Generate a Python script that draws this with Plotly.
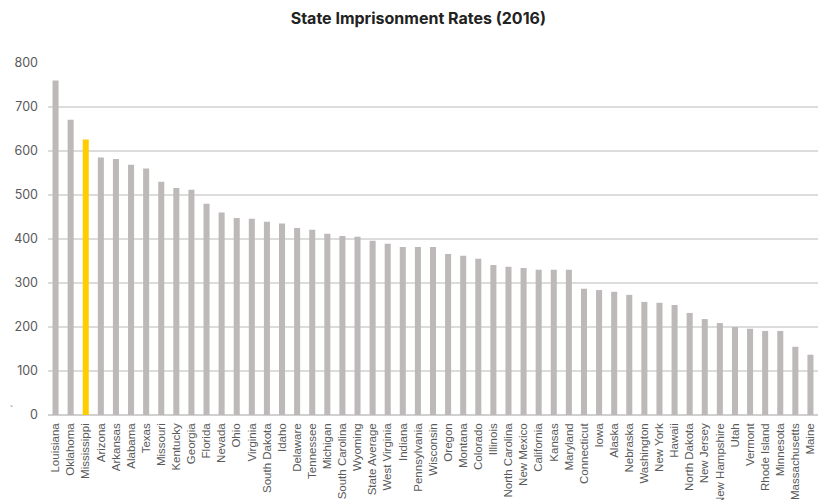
import plotly.graph_objects as go

states = ["Louisiana", "Oklahoma", "Mississippi", "Arizona", "Arkansas", "Alabama", "Texas",
          "Missouri", "Kentucky", "Georgia", "Florida", "Nevada", "Ohio", "Virginia",
          "South Dakota", "Idaho", "Delaware", "Tennessee", "Michigan", "South Carolina",
          "Wyoming", "State Average", "West Virginia", "Indiana", "Pennsylvania", "Wisconsin",
          "Oregon", "Montana", "Colorado", "Illinois", "North Carolina", "New Mexico",
          "California", "Kansas", "Maryland", "Connecticut", "Iowa", "Alaska", "Nebraska",
          "Washington", "New York", "Hawaii", "North Dakota", "New Jersey", "New Hampshire",
          "Utah", "Vermont", "Rhode Island", "Minnesota", "Massachusetts", "Maine"]
rates = [760, 671, 626, 585, 582, 569, 560, 530, 516, 512, 480, 460, 448, 446,
         439, 435, 425, 421, 412, 407, 405, 396, 389, 382, 382, 382,
         366, 362, 355, 341, 337, 334, 330, 330, 330, 287, 284, 280, 273,
         257, 255, 250, 232, 218, 209, 200, 196, 191, 191, 155, 137]
highlight = "Mississippi"
yticks = [0, 100, 200, 300, 400, 500, 600, 700, 800]

colors = ["#FFCC00" if s == highlight else "#BDB9B8" for s in states]

fig = go.Figure(go.Bar(x=states, y=rates, marker=dict(color=colors, line=dict(width=0)),
                       hoverinfo="x+y"))

# the page body adds an 8px offset, so the figure is sized to fit the 827x500 window
fig.update_layout(
    width=819, height=492,
    margin=dict(l=40, r=9, t=55, b=85),
    paper_bgcolor="white", plot_bgcolor="white",
    bargap=0.6,
    showlegend=False,
    title=dict(text="<b>State Imprisonment Rates (2016)</b>", xref="container", x=0.501,
               xanchor="center", yref="container", y=0.978, yanchor="middle",
               font=dict(family="Inter", size=16, color="#222222")),
    font=dict(family="Liberation Sans", color="#595959"),
)
fig.update_xaxes(
    tickangle=-90, tickfont=dict(size=11.5, color="#595959", family="Liberation Sans"),
    showgrid=False, showline=False, ticks="", automargin=False, ticklabelstandoff=5,
)
fig.update_yaxes(
    range=[0, 800], tickvals=yticks, showgrid=True, gridcolor="#DCDCDC", gridwidth=1.5,
    zeroline=True, zerolinecolor="#D0D0D0", zerolinewidth=2,
    tickfont=dict(size=12.5, color="#595959", family="Inter"),
    ticks="", ticklen=0, automargin=False, ticklabelstandoff=9,
)
fig.add_annotation(text="`", xref="paper", yref="paper", x=-0.052, y=0.012,
                   xanchor="left", yanchor="middle", showarrow=False,
                   font=dict(size=10, color="#595959"))

fig.write_html("out.html")
